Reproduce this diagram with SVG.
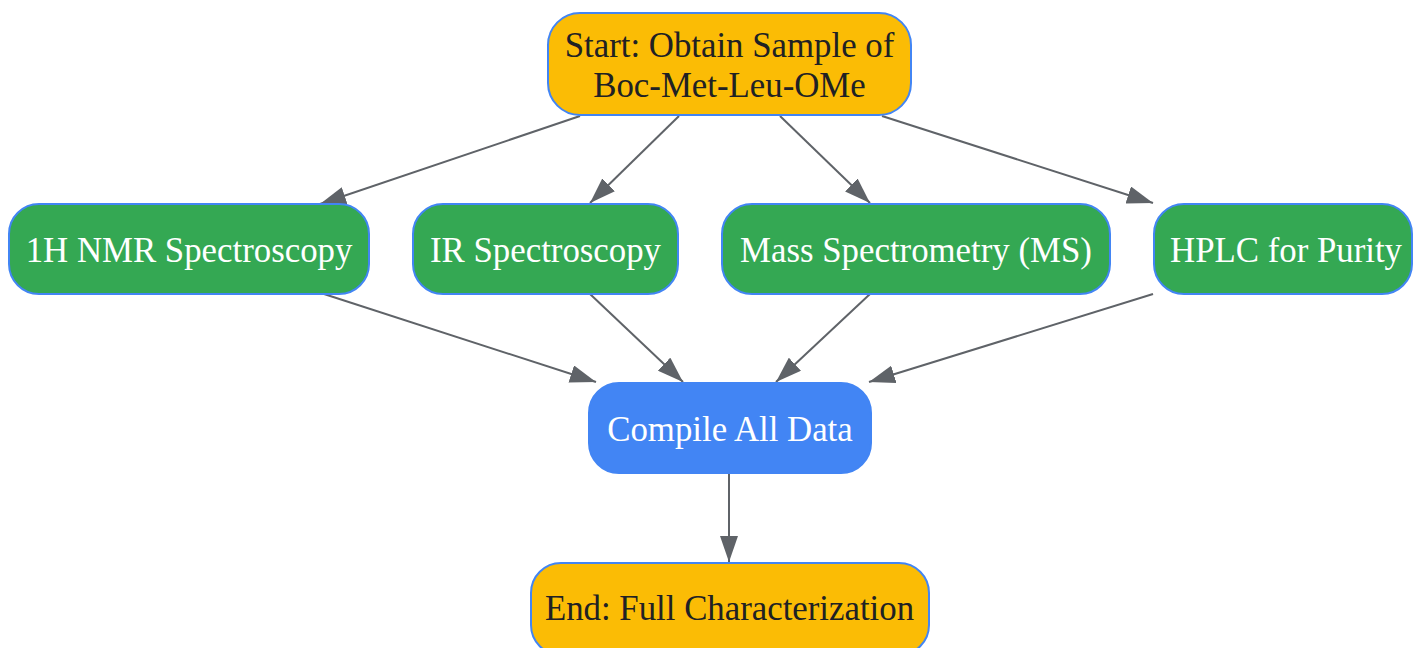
<svg xmlns="http://www.w3.org/2000/svg" width="1413" height="648" viewBox="0 0 1413 648">
<style>
.n rect{stroke:#4285F4;stroke-width:2}
.y rect{fill:#FBBC05}
.g rect{fill:#34A853}
.b rect{fill:#4285F4}
text{font-family:"Liberation Serif","Times New Roman",serif;font-size:34.8px;text-anchor:middle}
.y text{fill:#202124}
.g text,.b text{fill:#ffffff}
#edges line{stroke:#5f6368;stroke-width:2;marker-end:url(#ah)}
</style>
<defs>
<marker id="ah" markerWidth="26" markerHeight="18" refX="26" refY="9" orient="auto" markerUnits="userSpaceOnUse" viewBox="0 0 26 18">
<path d="M0,0 L26,9 L0,18 Z" fill="#5f6368"/>
</marker>
</defs>
<rect width="1413" height="648" fill="#ffffff"/>
<g id="edges">
<line x1="580" y1="116" x2="320" y2="204"/>
<line x1="679" y1="116" x2="590" y2="203"/>
<line x1="780" y1="116" x2="870" y2="203"/>
<line x1="882" y1="116" x2="1153" y2="203"/>
<line x1="324" y1="294" x2="596" y2="382"/>
<line x1="590" y1="294" x2="683" y2="382"/>
<line x1="870" y1="294" x2="776" y2="382"/>
<line x1="1153" y1="294" x2="869" y2="382"/>
<line x1="729" y1="474" x2="729" y2="562"/>
</g>
<g id="start" class="n y">
<rect x="548" y="13" width="363" height="102" rx="32"/>
<text x="729.5" y="57">Start: Obtain Sample of</text>
<text x="729.5" y="97">Boc-Met-Leu-OMe</text>
</g>
<g id="nmr" class="n g">
<rect x="9" y="204" width="360" height="90" rx="30"/>
<text x="189" y="262">1H NMR Spectroscopy</text>
</g>
<g id="ir" class="n g">
<rect x="413" y="204" width="265" height="90" rx="30"/>
<text x="545.5" y="262">IR Spectroscopy</text>
</g>
<g id="ms" class="n g">
<rect x="722" y="204" width="388" height="90" rx="30"/>
<text x="916" y="262">Mass Spectrometry (MS)</text>
</g>
<g id="hplc" class="n g">
<rect x="1154" y="204" width="258" height="90" rx="30"/>
<text x="1286" y="262">HPLC for Purity</text>
</g>
<g id="compile" class="n b">
<rect x="589" y="383" width="282" height="90" rx="30"/>
<text x="730" y="441">Compile All Data</text>
</g>
<g id="end" class="n y">
<rect x="531" y="563" width="398" height="92" rx="30"/>
<text x="729.5" y="620">End: Full Characterization</text>
</g>
</svg>
